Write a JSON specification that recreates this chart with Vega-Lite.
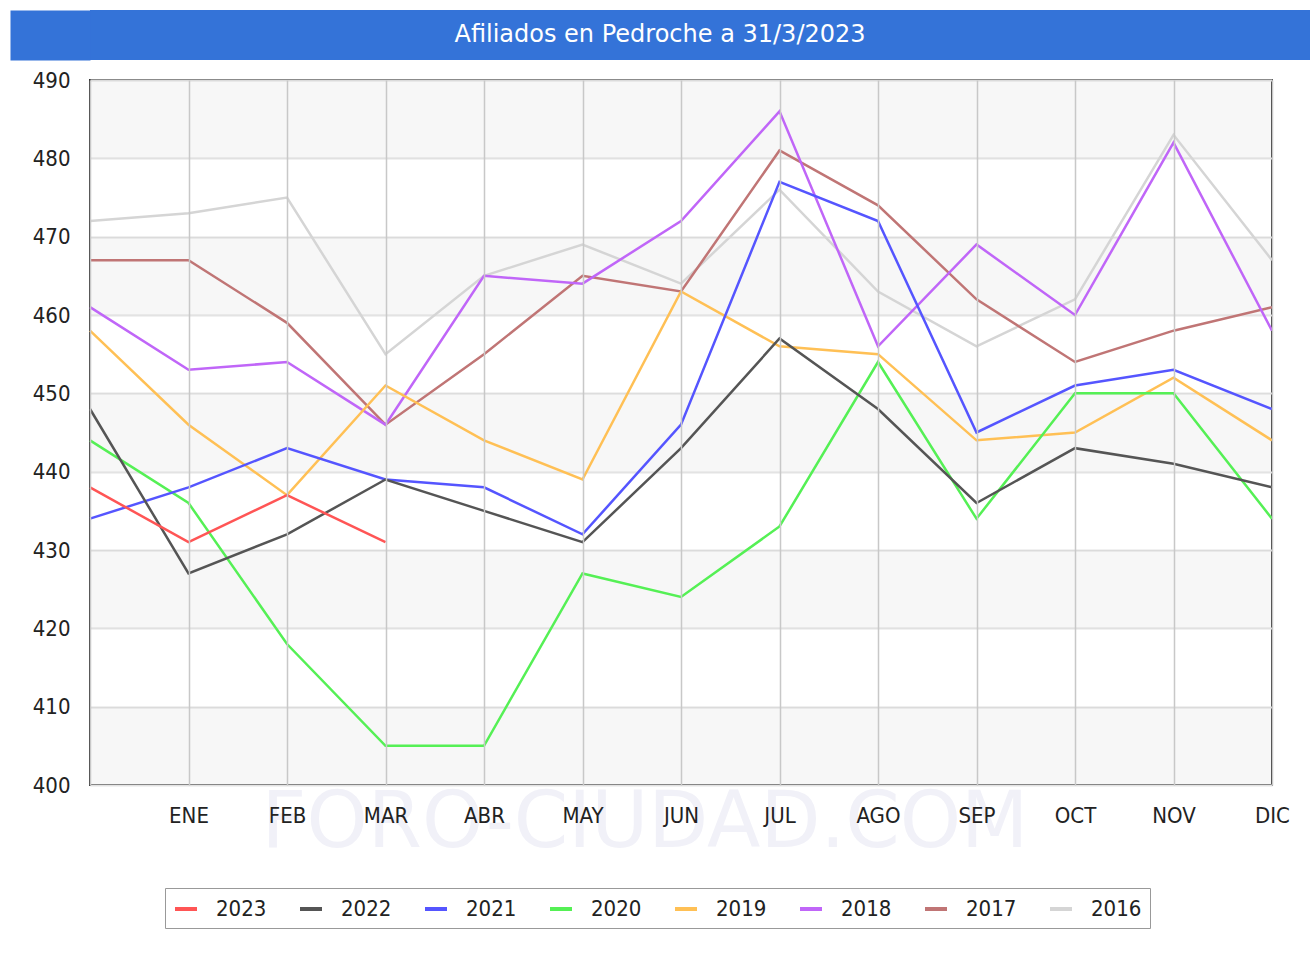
{
  "$schema": "https://vega.github.io/schema/vega-lite/v6.json",
  "padding": {"left": 10, "top": 10, "right": 4, "bottom": 0},
  "background": "#ffffff",
  "columns": 1,
  "align": "none",
  "spacing": 8,
  "datasets": {
    "titulo": [{"texto": "Afiliados en Pedroche a 31/3/2023"}],
    "bandas": [
      {"desde": 400, "hasta": 410},
      {"desde": 420, "hasta": 430},
      {"desde": 440, "hasta": 450},
      {"desde": 460, "hasta": 470},
      {"desde": 480, "hasta": 490}
    ],
    "afiliados": [
      {"anio": "2016", "mes": "DIC ant.", "afiliados": 472},
      {"anio": "2016", "mes": "ENE", "afiliados": 473},
      {"anio": "2016", "mes": "FEB", "afiliados": 475},
      {"anio": "2016", "mes": "MAR", "afiliados": 455},
      {"anio": "2016", "mes": "ABR", "afiliados": 465},
      {"anio": "2016", "mes": "MAY", "afiliados": 469},
      {"anio": "2016", "mes": "JUN", "afiliados": 464},
      {"anio": "2016", "mes": "JUL", "afiliados": 476},
      {"anio": "2016", "mes": "AGO", "afiliados": 463},
      {"anio": "2016", "mes": "SEP", "afiliados": 456},
      {"anio": "2016", "mes": "OCT", "afiliados": 462},
      {"anio": "2016", "mes": "NOV", "afiliados": 483},
      {"anio": "2016", "mes": "DIC", "afiliados": 467},
      {"anio": "2017", "mes": "DIC ant.", "afiliados": 467},
      {"anio": "2017", "mes": "ENE", "afiliados": 467},
      {"anio": "2017", "mes": "FEB", "afiliados": 459},
      {"anio": "2017", "mes": "MAR", "afiliados": 446},
      {"anio": "2017", "mes": "ABR", "afiliados": 455},
      {"anio": "2017", "mes": "MAY", "afiliados": 465},
      {"anio": "2017", "mes": "JUN", "afiliados": 463},
      {"anio": "2017", "mes": "JUL", "afiliados": 481},
      {"anio": "2017", "mes": "AGO", "afiliados": 474},
      {"anio": "2017", "mes": "SEP", "afiliados": 462},
      {"anio": "2017", "mes": "OCT", "afiliados": 454},
      {"anio": "2017", "mes": "NOV", "afiliados": 458},
      {"anio": "2017", "mes": "DIC", "afiliados": 461},
      {"anio": "2018", "mes": "DIC ant.", "afiliados": 461},
      {"anio": "2018", "mes": "ENE", "afiliados": 453},
      {"anio": "2018", "mes": "FEB", "afiliados": 454},
      {"anio": "2018", "mes": "MAR", "afiliados": 446},
      {"anio": "2018", "mes": "ABR", "afiliados": 465},
      {"anio": "2018", "mes": "MAY", "afiliados": 464},
      {"anio": "2018", "mes": "JUN", "afiliados": 472},
      {"anio": "2018", "mes": "JUL", "afiliados": 486},
      {"anio": "2018", "mes": "AGO", "afiliados": 456},
      {"anio": "2018", "mes": "SEP", "afiliados": 469},
      {"anio": "2018", "mes": "OCT", "afiliados": 460},
      {"anio": "2018", "mes": "NOV", "afiliados": 482},
      {"anio": "2018", "mes": "DIC", "afiliados": 458},
      {"anio": "2019", "mes": "DIC ant.", "afiliados": 458},
      {"anio": "2019", "mes": "ENE", "afiliados": 446},
      {"anio": "2019", "mes": "FEB", "afiliados": 437},
      {"anio": "2019", "mes": "MAR", "afiliados": 451},
      {"anio": "2019", "mes": "ABR", "afiliados": 444},
      {"anio": "2019", "mes": "MAY", "afiliados": 439},
      {"anio": "2019", "mes": "JUN", "afiliados": 463},
      {"anio": "2019", "mes": "JUL", "afiliados": 456},
      {"anio": "2019", "mes": "AGO", "afiliados": 455},
      {"anio": "2019", "mes": "SEP", "afiliados": 444},
      {"anio": "2019", "mes": "OCT", "afiliados": 445},
      {"anio": "2019", "mes": "NOV", "afiliados": 452},
      {"anio": "2019", "mes": "DIC", "afiliados": 444},
      {"anio": "2020", "mes": "DIC ant.", "afiliados": 444},
      {"anio": "2020", "mes": "ENE", "afiliados": 436},
      {"anio": "2020", "mes": "FEB", "afiliados": 418},
      {"anio": "2020", "mes": "MAR", "afiliados": 405},
      {"anio": "2020", "mes": "ABR", "afiliados": 405},
      {"anio": "2020", "mes": "MAY", "afiliados": 427},
      {"anio": "2020", "mes": "JUN", "afiliados": 424},
      {"anio": "2020", "mes": "JUL", "afiliados": 433},
      {"anio": "2020", "mes": "AGO", "afiliados": 454},
      {"anio": "2020", "mes": "SEP", "afiliados": 434},
      {"anio": "2020", "mes": "OCT", "afiliados": 450},
      {"anio": "2020", "mes": "NOV", "afiliados": 450},
      {"anio": "2020", "mes": "DIC", "afiliados": 434},
      {"anio": "2021", "mes": "DIC ant.", "afiliados": 434},
      {"anio": "2021", "mes": "ENE", "afiliados": 438},
      {"anio": "2021", "mes": "FEB", "afiliados": 443},
      {"anio": "2021", "mes": "MAR", "afiliados": 439},
      {"anio": "2021", "mes": "ABR", "afiliados": 438},
      {"anio": "2021", "mes": "MAY", "afiliados": 432},
      {"anio": "2021", "mes": "JUN", "afiliados": 446},
      {"anio": "2021", "mes": "JUL", "afiliados": 477},
      {"anio": "2021", "mes": "AGO", "afiliados": 472},
      {"anio": "2021", "mes": "SEP", "afiliados": 445},
      {"anio": "2021", "mes": "OCT", "afiliados": 451},
      {"anio": "2021", "mes": "NOV", "afiliados": 453},
      {"anio": "2021", "mes": "DIC", "afiliados": 448},
      {"anio": "2022", "mes": "DIC ant.", "afiliados": 448},
      {"anio": "2022", "mes": "ENE", "afiliados": 427},
      {"anio": "2022", "mes": "FEB", "afiliados": 432},
      {"anio": "2022", "mes": "MAR", "afiliados": 439},
      {"anio": "2022", "mes": "ABR", "afiliados": 435},
      {"anio": "2022", "mes": "MAY", "afiliados": 431},
      {"anio": "2022", "mes": "JUN", "afiliados": 443},
      {"anio": "2022", "mes": "JUL", "afiliados": 457},
      {"anio": "2022", "mes": "AGO", "afiliados": 448},
      {"anio": "2022", "mes": "SEP", "afiliados": 436},
      {"anio": "2022", "mes": "OCT", "afiliados": 443},
      {"anio": "2022", "mes": "NOV", "afiliados": 441},
      {"anio": "2022", "mes": "DIC", "afiliados": 438},
      {"anio": "2023", "mes": "DIC ant.", "afiliados": 438},
      {"anio": "2023", "mes": "ENE", "afiliados": 431},
      {"anio": "2023", "mes": "FEB", "afiliados": 437},
      {"anio": "2023", "mes": "MAR", "afiliados": 431}
    ]
  },
  "concat": [
    {
      "width": 1220,
      "height": 50,
      "data": {"name": "titulo"},
      "view": {"fill": "#3473d8", "stroke": null},
      "mark": {"type": "text", "color": "#ffffff", "fontSize": 24, "font": "DejaVu Sans", "align": "center", "baseline": "middle", "dx": -40},
      "encoding": {
        "text": {"field": "texto", "type": "nominal"},
        "y": {
          "field": "texto",
          "type": "nominal",
          "scale": {"paddingInner": 0, "paddingOuter": 0},
          "axis": {
            "title": null,
            "labels": false,
            "ticks": false,
            "grid": false,
            "domain": true,
            "domainColor": "#3473d8",
            "domainWidth": 80,
            "domainCap": "butt",
            "offset": 40
          }
        }
      }
    },
    {
      "width": 1182,
      "height": 705,
      "view": {"fill": "#ffffff", "stroke": "#333333", "strokeWidth": 2},
      "title": {
        "text": "FORO-CIUDAD.COM",
        "orient": "bottom",
        "anchor": "middle",
        "frame": "group",
        "font": "DejaVu Sans",
        "fontSize": 78,
        "fontWeight": "normal",
        "color": "#f1f1f8",
        "baseline": "middle",
        "offset": 0,
        "dx": -36,
        "dy": -2,
        "zindex": 0
      },
      "layer": [
        {
          "data": {"name": "bandas"},
          "mark": {"type": "rect", "fill": "#000000", "fillOpacity": 0.032},
          "encoding": {
            "y": {
              "field": "desde",
              "type": "quantitative",
              "scale": {"domain": [400, 490], "nice": false, "zero": false},
              "axis": {
                "values": [400, 410, 420, 430, 440, 450, 460, 470, 480, 490],
                "grid": true,
                "gridColor": "#e3e3e3",
                "gridWidth": 2,
                "ticks": false,
                "tickSize": 0,
                "domain": false,
                "labelPadding": 20,
                "labelFontSize": 22,
                "labelFont": "DejaVu Sans Condensed, DejaVu Sans",
                "labelColor": "#222222",
                "title": " ",
                "titleFontSize": 10,
                "titlePadding": 11
              }
            },
            "y2": {"field": "hasta"}
          }
        },
        {
          "data": {"name": "afiliados"},
          "mark": {"type": "line", "strokeWidth": 2.5},
          "encoding": {
            "x": {
              "field": "mes",
              "type": "ordinal",
              "sort": null,
              "scale": {"type": "point", "padding": 0, "domain": ["DIC ant.", "ENE", "FEB", "MAR", "ABR", "MAY", "JUN", "JUL", "AGO", "SEP", "OCT", "NOV", "DIC"]},
              "axis": {
                "title": null,
                "labelExpr": "datum.value == 'DIC ant.' ? '' : datum.value",
                "labelAngle": 0,
                "grid": true,
                "gridColor": "#c8c8c8",
                "gridWidth": 1.5,
                "ticks": false,
                "tickSize": 0,
                "domain": false,
                "labelPadding": 20,
                "labelFontSize": 22,
                "labelFont": "DejaVu Sans Condensed, DejaVu Sans",
                "labelColor": "#222222",
                "zindex": 1
              }
            },
            "y": {
              "field": "afiliados",
              "type": "quantitative",
              "scale": {"domain": [400, 490], "nice": false, "zero": false},
              "axis": {
                "values": [400, 410, 420, 430, 440, 450, 460, 470, 480, 490],
                "grid": true,
                "gridColor": "#e3e3e3",
                "gridWidth": 2,
                "ticks": false,
                "tickSize": 0,
                "domain": false,
                "labelPadding": 20,
                "labelFontSize": 22,
                "labelFont": "DejaVu Sans Condensed, DejaVu Sans",
                "labelColor": "#222222",
                "title": " ",
                "titleFontSize": 10,
                "titlePadding": 11
              }
            },
            "color": {
              "field": "anio",
              "type": "nominal",
              "scale": {
                "domain": ["2023", "2022", "2021", "2020", "2019", "2018", "2017", "2016"],
                "range": ["#ff5555", "#555555", "#5555ff", "#55f055", "#ffc055", "#c066f8", "#c07575", "#d5d5d5"]
              },
              "legend": {
                "title": null,
                "orient": "none",
                "legendX": 75,
                "legendY": 878,
                "direction": "horizontal",
                "symbolType": "stroke",
                "symbolStrokeWidth": 4,
                "symbolSize": 484,
                "labelFontSize": 22,
                "labelFont": "DejaVu Sans Condensed, DejaVu Sans",
                "labelColor": "#222222",
                "labelOffset": 17,
                "columnPadding": 25,
                "padding": 8,
                "strokeColor": "#999999",
                "fillColor": "#ffffff"
              }
            }
          }
        }
      ]
    }
  ],
  "config": {
    "font": "DejaVu Sans"
  }
}
